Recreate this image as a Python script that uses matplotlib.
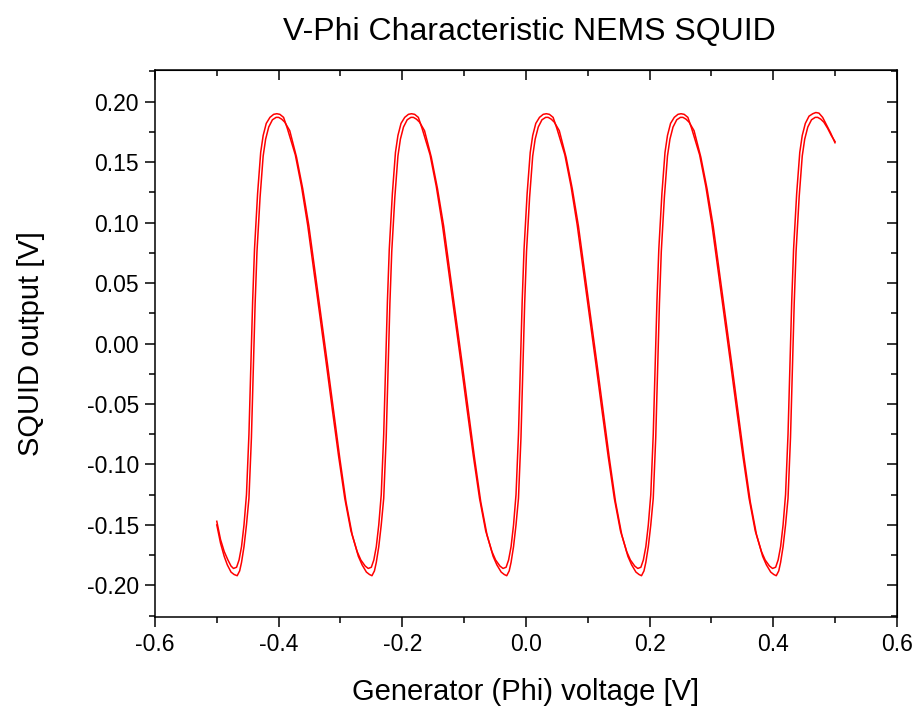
import numpy as np
import matplotlib
matplotlib.use('Agg')
from matplotlib import pyplot as plt
from matplotlib.ticker import MultipleLocator, FormatStrFormatter

# (generator voltage, SQUID output)
# sweep A: rises slightly earlier, shallower minima
sweep_a = [
    (-0.500, -0.147), (-0.494, -0.162), (-0.488, -0.172), (-0.482, -0.179), (-0.477, -0.184), (-0.473, -0.186),
    (-0.468, -0.185), (-0.464, -0.179), (-0.460, -0.168), (-0.456, -0.150), (-0.452, -0.125), (-0.448, -0.075),
    (-0.445, -0.020), (-0.442, 0.035), (-0.439, 0.078), (-0.434, 0.124), (-0.429, 0.158), (-0.425, 0.172),
    (-0.420, 0.182), (-0.414, 0.187), (-0.408, 0.1895), (-0.403, 0.190), (-0.398, 0.1895), (-0.392, 0.187),
    (-0.386, 0.178), (-0.373, 0.156), (-0.363, 0.130), (-0.353, 0.098), (-0.343, 0.060), (-0.333, 0.022),
    (-0.323, -0.016), (-0.313, -0.055), (-0.303, -0.093), (-0.293, -0.128), (-0.283, -0.155), (-0.273, -0.172),
    (-0.267, -0.179), (-0.260, -0.184), (-0.255, -0.186),
    (-0.250, -0.185), (-0.246, -0.179), (-0.242, -0.168), (-0.238, -0.150), (-0.234, -0.125), (-0.230, -0.075),
    (-0.227, -0.020), (-0.224, 0.035), (-0.221, 0.078), (-0.216, 0.124), (-0.211, 0.158), (-0.207, 0.172),
    (-0.202, 0.182), (-0.196, 0.187), (-0.190, 0.1895), (-0.185, 0.190), (-0.180, 0.1895), (-0.174, 0.187),
    (-0.168, 0.178), (-0.155, 0.156), (-0.145, 0.130), (-0.135, 0.098), (-0.125, 0.060), (-0.115, 0.022),
    (-0.105, -0.016), (-0.095, -0.055), (-0.085, -0.093), (-0.075, -0.128), (-0.065, -0.155), (-0.055, -0.172),
    (-0.049, -0.179), (-0.042, -0.184), (-0.037, -0.186),
    (-0.032, -0.185), (-0.028, -0.179), (-0.024, -0.168), (-0.020, -0.150), (-0.016, -0.125), (-0.012, -0.075),
    (-0.009, -0.020), (-0.006, 0.035), (-0.003, 0.078), (0.002, 0.124), (0.007, 0.158), (0.011, 0.172),
    (0.016, 0.182), (0.022, 0.187), (0.028, 0.1895), (0.033, 0.190), (0.038, 0.1895), (0.044, 0.187),
    (0.050, 0.178), (0.063, 0.156), (0.073, 0.130), (0.083, 0.098), (0.093, 0.060), (0.103, 0.022),
    (0.113, -0.016), (0.123, -0.055), (0.133, -0.093), (0.143, -0.128), (0.153, -0.155), (0.163, -0.172),
    (0.169, -0.179), (0.176, -0.184), (0.181, -0.186),
    (0.186, -0.185), (0.190, -0.179), (0.194, -0.168), (0.198, -0.150), (0.202, -0.125), (0.206, -0.075),
    (0.209, -0.020), (0.212, 0.035), (0.215, 0.078), (0.220, 0.124), (0.225, 0.158), (0.229, 0.172),
    (0.234, 0.182), (0.240, 0.187), (0.246, 0.1895), (0.251, 0.190), (0.256, 0.1895), (0.262, 0.187),
    (0.268, 0.178), (0.281, 0.156), (0.291, 0.130), (0.301, 0.098), (0.311, 0.060), (0.321, 0.022),
    (0.331, -0.016), (0.341, -0.055), (0.351, -0.093), (0.361, -0.128), (0.371, -0.155), (0.381, -0.172),
    (0.387, -0.179), (0.394, -0.184), (0.399, -0.186),
    (0.404, -0.185), (0.408, -0.179), (0.412, -0.168), (0.416, -0.150), (0.420, -0.125), (0.424, -0.075),
    (0.427, -0.020), (0.430, 0.035), (0.433, 0.078), (0.438, 0.124), (0.443, 0.158), (0.447, 0.172),
    (0.452, 0.182), (0.458, 0.188), (0.464, 0.190), (0.469, 0.191), (0.474, 0.1905), (0.480, 0.187),
    (0.486, 0.181), (0.493, 0.174), (0.500, 0.166),
]

# sweep B: rises a little later, deeper minima
sweep_b = [
    (-0.500, -0.150), (-0.494, -0.165), (-0.488, -0.176), (-0.483, -0.183), (-0.477, -0.189), (-0.472, -0.191),
    (-0.467, -0.192), (-0.463, -0.188), (-0.460, -0.181), (-0.456, -0.168), (-0.452, -0.150), (-0.448, -0.128),
    (-0.444, -0.078), (-0.441, -0.022), (-0.438, 0.033), (-0.435, 0.076), (-0.430, 0.121), (-0.425, 0.155),
    (-0.421, 0.169), (-0.416, 0.179), (-0.410, 0.185), (-0.404, 0.187), (-0.400, 0.187), (-0.395, 0.1855),
    (-0.390, 0.183), (-0.382, 0.176), (-0.371, 0.154), (-0.361, 0.128), (-0.351, 0.097), (-0.341, 0.059),
    (-0.331, 0.021), (-0.321, -0.017), (-0.311, -0.056), (-0.301, -0.095), (-0.291, -0.131), (-0.281, -0.158),
    (-0.271, -0.176), (-0.265, -0.183), (-0.258, -0.189), (-0.253, -0.191),
    (-0.249, -0.192), (-0.245, -0.188), (-0.242, -0.181), (-0.238, -0.168), (-0.234, -0.150), (-0.230, -0.128),
    (-0.226, -0.078), (-0.223, -0.022), (-0.220, 0.033), (-0.217, 0.076), (-0.212, 0.121), (-0.207, 0.155),
    (-0.203, 0.169), (-0.198, 0.179), (-0.192, 0.185), (-0.186, 0.187), (-0.182, 0.187), (-0.177, 0.1855),
    (-0.172, 0.183), (-0.164, 0.176), (-0.153, 0.154), (-0.143, 0.128), (-0.133, 0.097), (-0.123, 0.059),
    (-0.113, 0.021), (-0.103, -0.017), (-0.093, -0.056), (-0.083, -0.095), (-0.073, -0.131), (-0.063, -0.158),
    (-0.053, -0.176), (-0.047, -0.183), (-0.040, -0.189), (-0.035, -0.191),
    (-0.031, -0.192), (-0.027, -0.188), (-0.024, -0.181), (-0.020, -0.168), (-0.016, -0.150), (-0.012, -0.128),
    (-0.008, -0.078), (-0.005, -0.022), (-0.002, 0.033), (0.001, 0.076), (0.006, 0.121), (0.011, 0.155),
    (0.015, 0.169), (0.020, 0.179), (0.026, 0.185), (0.032, 0.187), (0.036, 0.187), (0.041, 0.1855),
    (0.046, 0.183), (0.054, 0.176), (0.065, 0.154), (0.075, 0.128), (0.085, 0.097), (0.095, 0.059),
    (0.105, 0.021), (0.115, -0.017), (0.125, -0.056), (0.135, -0.095), (0.145, -0.131), (0.155, -0.158),
    (0.165, -0.176), (0.171, -0.183), (0.178, -0.189), (0.183, -0.191),
    (0.187, -0.192), (0.191, -0.188), (0.194, -0.181), (0.198, -0.168), (0.202, -0.150), (0.206, -0.128),
    (0.210, -0.078), (0.213, -0.022), (0.216, 0.033), (0.219, 0.076), (0.224, 0.121), (0.229, 0.155),
    (0.233, 0.169), (0.238, 0.179), (0.244, 0.185), (0.250, 0.187), (0.254, 0.187), (0.259, 0.1855),
    (0.264, 0.183), (0.272, 0.176), (0.283, 0.154), (0.293, 0.128), (0.303, 0.097), (0.313, 0.059),
    (0.323, 0.021), (0.333, -0.017), (0.343, -0.056), (0.353, -0.095), (0.363, -0.131), (0.373, -0.158),
    (0.383, -0.176), (0.389, -0.183), (0.396, -0.189), (0.401, -0.191),
    (0.405, -0.192), (0.409, -0.188), (0.412, -0.181), (0.416, -0.168), (0.420, -0.150), (0.424, -0.128),
    (0.428, -0.078), (0.431, -0.022), (0.434, 0.033), (0.437, 0.076), (0.442, 0.121), (0.447, 0.155),
    (0.451, 0.169), (0.456, 0.179), (0.462, 0.185), (0.468, 0.187), (0.472, 0.187), (0.477, 0.1855),
    (0.482, 0.183), (0.488, 0.178), (0.494, 0.172), (0.500, 0.167),
]

plt.rcParams['font.family'] = ['Liberation Sans', 'DejaVu Sans']
plt.rcParams['axes.unicode_minus'] = False

fig = plt.figure(figsize=(9.17, 7.09), dpi=100)
ax = fig.add_axes([0.169, 0.130, 0.809, 0.771])

for sweep in (sweep_a, sweep_b):
    arr = np.array(sweep)
    ax.plot(arr[:, 0], arr[:, 1], color='red', lw=1.1)

ax.set_xlim(-0.6, 0.6)
ax.set_ylim(-0.226, 0.226)
ax.xaxis.set_major_locator(MultipleLocator(0.2))
ax.xaxis.set_minor_locator(MultipleLocator(0.1))
ax.yaxis.set_major_locator(MultipleLocator(0.05))
ax.yaxis.set_minor_locator(MultipleLocator(0.025))
ax.xaxis.set_major_formatter(FormatStrFormatter('%.1f'))
ax.yaxis.set_major_formatter(FormatStrFormatter('%.2f'))

for s in ax.spines.values():
    s.set_linewidth(1.1)
ax.tick_params(which='major', direction='out', length=7.5, width=1.1, labelsize=16.5, pad=4)
ax.tick_params(which='minor', direction='out', length=4, width=1.1)

# mirrored ticks pointing inward on top and right
top = ax.secondary_xaxis('top')
top.xaxis.set_major_locator(MultipleLocator(0.2))
top.xaxis.set_minor_locator(MultipleLocator(0.1))
top.tick_params(which='major', direction='in', length=7.5, width=1.1, labeltop=False)
top.tick_params(which='minor', direction='in', length=4, width=1.1)
right = ax.secondary_yaxis('right')
right.yaxis.set_major_locator(MultipleLocator(0.05))
right.yaxis.set_minor_locator(MultipleLocator(0.025))
right.tick_params(which='major', direction='in', length=7.5, width=1.1, labelright=False)
right.tick_params(which='minor', direction='in', length=4, width=1.1)

ax.set_xlabel('Generator (Phi) voltage [V]', fontsize=21, labelpad=16)
ax.set_ylabel('SQUID output [V]', fontsize=21, labelpad=30)
fig.text(0.577, 0.955, 'V-Phi Characteristic NEMS SQUID', fontsize=23, ha='center', va='center')

fig.savefig('out.png', dpi=100)
